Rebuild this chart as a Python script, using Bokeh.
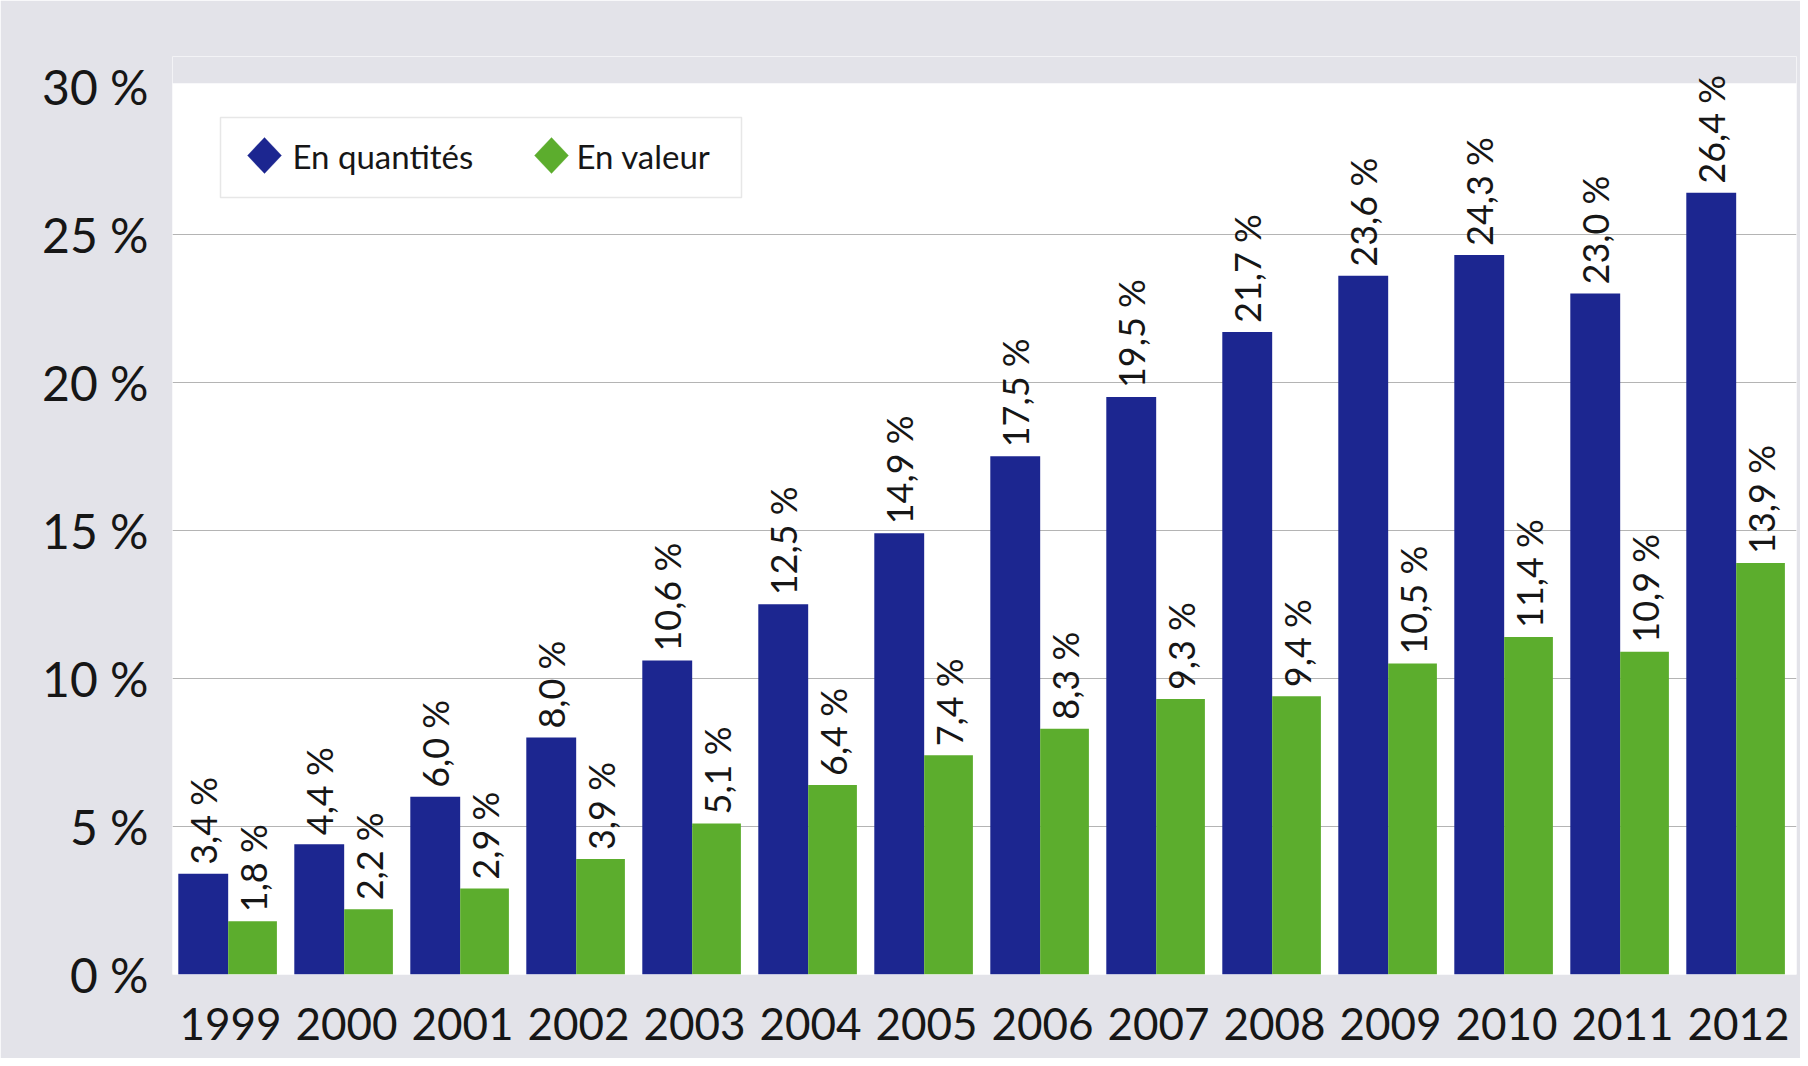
import math
from bokeh.plotting import figure
from bokeh.models import (ColumnDataSource, FactorRange, Range1d, LabelSet, Label,
                          BoxAnnotation, PolyAnnotation, PrintfTickFormatter, FixedTicker)
from bokeh.transform import dodge
from bokeh.core.properties import value
from bokeh.embed import file_html
from bokeh.resources import INLINE

# ---- data ----
years = ["1999", "2000", "2001", "2002", "2003", "2004", "2005",
         "2006", "2007", "2008", "2009", "2010", "2011", "2012"]
en_quantites = [3.4, 4.4, 6.0, 8.0, 10.6, 12.5, 14.9, 17.5, 19.5, 21.7, 23.6, 24.3, 23.0, 26.4]
en_valeur = [1.8, 2.2, 2.9, 3.9, 5.1, 6.4, 7.4, 8.3, 9.3, 9.4, 10.5, 11.4, 10.9, 13.9]
series_names = ["En quantités", "En valeur"]
y_ticks = [0, 5, 10, 15, 20, 25, 30]
grid_ticks = [5, 10, 15, 20, 25]

BLUE = "#1c2690"
GREEN = "#5cad2d"
TEXT = "#161616"
BG = "#e3e3e9"
FONT = "Lato"


def fmt(v):
    return f"{v:.1f}".replace(".", ",") + " %"


src = ColumnDataSource(dict(
    year=years,
    q=en_quantites,
    v=en_valeur,
    ql=[fmt(x) for x in en_quantites],
    vl=[fmt(x) for x in en_valeur],
))

p = figure(
    x_range=FactorRange(factors=years, range_padding=0),
    y_range=Range1d(0, 31),
    frame_width=1624, frame_height=918,
    min_border_left=172, min_border_right=4, min_border_top=56, min_border_bottom=84,
    output_backend="svg", toolbar_location=None,
    background_fill_color="white", border_fill_color=BG,
)
p.outline_line_color = None

# grey band above the 30 % line (page background)
p.add_layout(BoxAnnotation(bottom=30.1, fill_color=BG, fill_alpha=1,
                           line_color=None, level="underlay"))

BLUE_DODGE, GREEN_DODGE = -0.235, 0.19
p.vbar(x=dodge("year", BLUE_DODGE, range=p.x_range), top="q", width=0.43,
       source=src, fill_color=BLUE, line_color=None)
p.vbar(x=dodge("year", GREEN_DODGE, range=p.x_range), top="v", width=0.42,
       source=src, fill_color=GREEN, line_color=None)

for col, ycol, dd in (("ql", "q", BLUE_DODGE), ("vl", "v", GREEN_DODGE)):
    p.add_layout(LabelSet(
        x=dodge("year", dd, range=p.x_range), y=ycol, text=col, source=src,
        angle=math.pi / 2, text_align="left", text_baseline="middle",
        y_offset=9, text_font=value(FONT), text_font_size=value("36px"),
        text_color=TEXT,
    ))

# axes
p.yaxis.ticker = FixedTicker(ticks=y_ticks)
p.yaxis.formatter = PrintfTickFormatter(format="%d %%")
for ax in (p.xaxis, p.yaxis):
    ax.axis_line_color = None
    ax.major_tick_line_color = None
    ax.minor_tick_line_color = None
    ax.major_label_text_font = FONT
    ax.major_label_text_color = TEXT
p.xaxis.major_label_text_font_size = "44px"
p.xaxis.major_label_standoff = 27
p.yaxis.major_label_text_font_size = "48px"
p.yaxis.major_label_standoff = 18
p.xgrid.grid_line_color = None
p.ygrid.ticker = FixedTicker(ticks=grid_ticks)
p.ygrid.grid_line_color = "#b4b4b4"
p.ygrid.grid_line_width = 1

# legend (drawn manually for diamond markers)
p.add_layout(BoxAnnotation(left=48, right=569, bottom=777, top=857,
                           left_units="screen", right_units="screen",
                           bottom_units="screen", top_units="screen",
                           fill_color="white", fill_alpha=1,
                           line_color="#b0b0b0", line_width=1.5))
for cx, tx, color, name in ((92, 120, BLUE, series_names[0]),
                            (379, 404, GREEN, series_names[1])):
    cy = 819
    p.add_layout(PolyAnnotation(xs=[cx - 17, cx, cx + 17, cx], ys=[cy, cy + 18, cy, cy - 18],
                                xs_units="screen", ys_units="screen",
                                fill_color=color, fill_alpha=1, line_color=color))
    p.add_layout(Label(x=tx, y=cy, x_units="screen", y_units="screen", text=name,
                       text_font=FONT, text_font_size="33px", text_baseline="middle",
                       text_color=TEXT))

open("out.html", "w").write(file_html(p, INLINE))
